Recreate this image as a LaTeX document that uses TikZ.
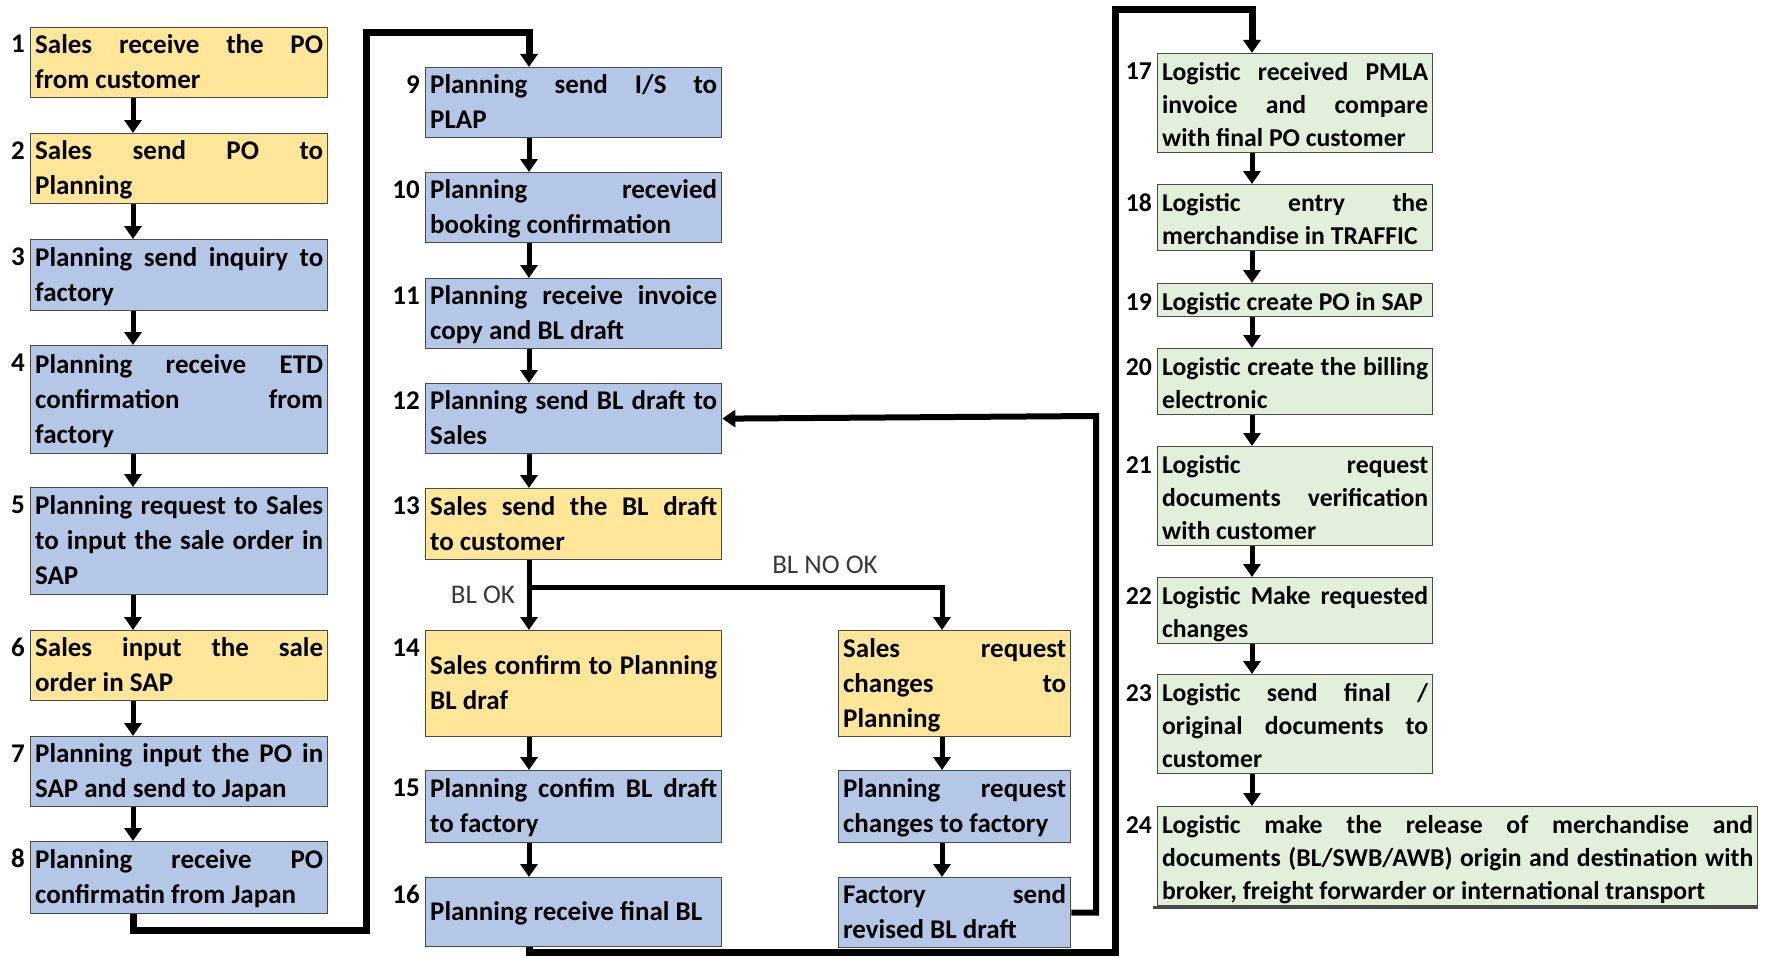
\documentclass[tikz,border=0pt]{standalone}
\usepackage{fontspec}
\setmainfont{Carlito}
\usetikzlibrary{arrows.meta,calc}

\definecolor{salesfill}{HTML}{FFE699}
\definecolor{planfill}{HTML}{B4C7E7}
\definecolor{logfill}{HTML}{E2EFDA}
\definecolor{edge}{HTML}{4A4A4A}
\definecolor{labelgray}{HTML}{3A3A3A}

% one justified line / one left-aligned line of a step box
% (natural, stretchable word spaces instead of the fixed ragged ones)
\newcommand\jline[1]{\makebox[\hsize][s]{\spaceskip=0pt\xspaceskip=0pt\bs#1}}
\newcommand\lline[1]{\makebox[\hsize][l]{\spaceskip=0pt\xspaceskip=0pt\bs#1}}

\tikzset{
  x=1pt, y=-1pt,
  box/.style={draw=edge, line width=1.3pt, anchor=north west,
    inner xsep=4.5pt, inner ysep=0pt, align=left},
  colfont/.style={font={\bfseries\fontsize{27}{35}\selectfont
    \lineskiplimit=-100pt\def\bs{\rule[-9pt]{0pt}{35pt}}}},
  logfont/.style={font={\bfseries\fontsize{25.7}{33}\selectfont
    \lineskiplimit=-100pt\def\bs{\rule[-6pt]{0pt}{33pt}}}},
  sales/.style={box, colfont, fill=salesfill},
  plan/.style={box, colfont, fill=planfill},
  logi/.style={box, logfont, fill=logfill},
  numA/.style={anchor=base east, inner sep=0pt, colfont},
  numB/.style={anchor=base east, inner sep=0pt, logfont},
  flow/.style={line width=5pt, -{Triangle[length=13pt,width=17pt]}},
  loopline/.style={line width=7pt, line join=miter},
  lbl/.style={font=\fontsize{27}{32}\selectfont, text=labelgray, inner sep=0pt}
}

\begin{document}
\begin{tikzpicture}
\fill[white] (0,0) rectangle (1773,958);
\useasboundingbox (0,0) rectangle (1773,958);

% x positions of the vertical flow lines
\coordinate (cA) at (133,0);
\coordinate (cB) at (529,0);
\coordinate (cC) at (942,0);
\coordinate (cD) at (1252,0);

% ---- column 1 ----
\node[sales, text width=288pt, minimum height=70pt] (b1) at (30,27)
  {\jline{Sales receive the PO}\\\lline{from customer}};
\node[sales, text width=288pt, minimum height=70pt] (b2) at (30,133)
  {\jline{Sales send PO to}\\\lline{Planning}};
\node[plan, text width=288pt, minimum height=71pt] (b3) at (30,239)
  {\jline{Planning send inquiry to}\\\lline{factory}};
\node[plan, text width=288pt, minimum height=108pt] (b4) at (30,345)
  {\jline{Planning receive ETD}\\\jline{confirmation from}\\\lline{factory}};
\node[plan, text width=288pt, minimum height=107pt] (b5) at (30,487)
  {\jline{Planning request to Sales}\\\jline{to input the sale order in}\\\lline{SAP}};
\node[sales, text width=288pt, minimum height=70pt] (b6) at (30,630)
  {\jline{Sales input the sale}\\\lline{order in SAP}};
\node[plan, text width=288pt, minimum height=70pt] (b7) at (30,736)
  {\jline{Planning input the PO in}\\\lline{SAP and send to Japan}};
\node[plan, text width=288pt, minimum height=72pt] (b8) at (30,841)
  {\jline{Planning receive PO}\\\lline{confirmatin from Japan}};

% ---- column 2 ----
\node[plan, text width=287pt, minimum height=69pt] (b9) at (425,67)
  {\jline{Planning send I/S to}\\\lline{PLAP}};
\node[plan, text width=287pt, minimum height=70pt] (b10) at (425,172)
  {\jline{Planning recevied}\\\lline{booking confirmation}};
\node[plan, text width=287pt, minimum height=70pt] (b11) at (425,278)
  {\jline{Planning receive invoice}\\\lline{copy and BL draft}};
\node[plan, text width=287pt, minimum height=70pt] (b12) at (425,383)
  {\jline{Planning send BL draft to}\\\lline{Sales}};
\node[sales, text width=287pt, minimum height=71pt] (b13) at (425,488)
  {\jline{Sales send the BL draft}\\\lline{to customer}};
\node[sales, text width=287pt, minimum height=106pt] (b14) at (425,630)
  {\jline{Sales confirm to Planning}\\\lline{BL draf}};
\node[plan, text width=287pt, minimum height=72pt] (b15) at (425,770)
  {\jline{Planning confim BL draft}\\\lline{to factory}};
\node[plan, text width=287pt, minimum height=69pt] (b16) at (425,877)
  {\lline{Planning receive final BL}};

% ---- change branch ----
\node[sales, text width=223pt, minimum height=106pt] (r1) at (838,630)
  {\jline{Sales request}\\\jline{changes to}\\\lline{Planning}};
\node[plan, text width=223pt, minimum height=72pt] (r2) at (838,770)
  {\jline{Planning request}\\\lline{changes to factory}};
\node[plan, text width=223pt, minimum height=69pt] (r3) at (838,877)
  {\jline{Factory send}\\\lline{revised BL draft}};

% ---- column 4 ----
\node[logi, text width=266pt, minimum height=99pt] (b17) at (1157,53)
  {\jline{Logistic received PMLA}\\\jline{invoice and compare}\\\lline{with final PO customer}};
\node[logi, text width=266pt, minimum height=66pt] (b18) at (1157,184)
  {\jline{Logistic entry the}\\\lline{merchandise in TRAFFIC}};
\node[logi, text width=266pt, minimum height=33pt] (b19) at (1157,283)
  {\lline{Logistic create PO in SAP}};
\node[logi, text width=266pt, minimum height=65pt] (b20) at (1157,348)
  {\jline{Logistic create the billing}\\\lline{electronic}};
\node[logi, text width=266pt, minimum height=98pt] (b21) at (1157,446)
  {\jline{Logistic request}\\\jline{documents verification}\\\lline{with customer}};
\node[logi, text width=266pt, minimum height=66pt] (b22) at (1157,577)
  {\jline{Logistic Make requested}\\\lline{changes}};
\node[logi, text width=266pt, minimum height=99pt] (b23) at (1157,674)
  {\jline{Logistic send final /}\\\jline{original documents to}\\\lline{customer}};
\node[logi, text width=591pt, minimum height=99pt] (b24) at (1157,806)
  {\jline{Logistic make the release of merchandise and}\\
   \jline{documents (BL/SWB/AWB) origin and destination with}\\
   \lline{broker, freight forwarder or international transport}};
\draw[edge, line width=3pt] ([xshift=-4pt,yshift=-1pt]b24.south west) -- ([yshift=-1pt]b24.south east);

% ---- step numbers ----
\foreach \n in {1,...,16}
  \node[numA] (n\n) at ($(b\n.north west)+(-5,26)$) {\n};
\foreach \n in {17,...,24}
  \node[numB] (n\n) at ($(b\n.north west)+(-5,27)$) {\n};

% ---- flow arrows ----
\foreach \a/\b in {b1/b2,b2/b3,b3/b4,b4/b5,b5/b6,b6/b7,b7/b8}
  \draw[flow] (\a.south -| cA) -- (\b.north -| cA);
\foreach \a/\b in {b9/b10,b10/b11,b11/b12,b12/b13,b13/b14,b14/b15,b15/b16}
  \draw[flow] (\a.south -| cB) -- (\b.north -| cB);
\foreach \a/\b in {r1/r2,r2/r3}
  \draw[flow] (\a.south -| cC) -- (\b.north -| cC);
\foreach \a/\b in {b17/b18,b18/b19,b19/b20,b20/b21,b21/b22,b22/b23,b23/b24}
  \draw[flow] (\a.south -| cD) -- (\b.north -| cD);

% BL NO OK branch
\coordinate (br) at (529,587);
\draw[flow, line join=miter] (br) -| (r1.north -| cC);
\node[lbl] (okl) at (483,595) {BL OK};
\node[lbl] (nokl) at (825,565) {BL NO OK};

% revised draft back to step 12
\coordinate (fb) at (1096,416);
\draw[flow, line width=6pt, line join=miter] (r3.east) -| (fb) -- (b12.east);

% column 1 -> column 2
\coordinate (la1) at (366,930);
\coordinate (la2) at (366,33);
\draw[loopline, -{Triangle[length=13pt,width=17pt]}]
  (b8.south -| cA) |- (la1) -- (la2) -| (b9.north -| cB);

% column 2 -> column 4
\coordinate (lb1) at (1115,952);
\coordinate (lb2) at (1115,10);
\draw[loopline, -{Triangle[length=13pt,width=17pt]}]
  (b16.south -| cB) |- (lb1) -- (lb2) -| (b17.north -| cD);
\end{tikzpicture}
\end{document}
